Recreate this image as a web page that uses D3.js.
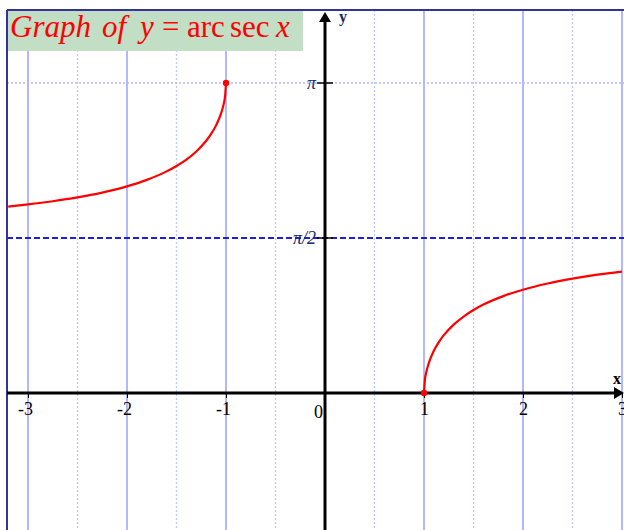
<!DOCTYPE html>
<html>
<head>
<meta charset="utf-8">
<script src="https://cdn.jsdelivr.net/npm/d3@7"></script>
<style>
  body { margin: 0; background: #fff; }
  svg { display: block; }
  text { font-family: "Liberation Serif", "DejaVu Serif", serif; }
</style>
</head>
<body>
<div id="chart"></div>
<script>
// arcsec x
const leftX  = [-3.2, -3.0, -2.75, -2.5, -2.25, -2.0, -1.8, -1.6, -1.5, -1.4, -1.3, -1.2, -1.15, -1.1, -1.05, -1.02, -1.01, -1.0];
const leftY  = [1.889, 1.911, 1.943, 1.982, 2.031, 2.094, 2.160, 2.246, 2.301, 2.366, 2.448, 2.556, 2.626, 2.712, 2.833, 2.943, 3.000, 3.1416];
const rightX = [1.0, 1.01, 1.02, 1.05, 1.1, 1.15, 1.2, 1.3, 1.4, 1.5, 1.6, 1.8, 2.0, 2.25, 2.5, 2.75, 3.0];
const rightY = [0, 0.142, 0.198, 0.308, 0.430, 0.516, 0.586, 0.693, 0.775, 0.841, 0.896, 0.982, 1.047, 1.110, 1.159, 1.199, 1.231];
const endDots = [[-1, Math.PI], [1, 0]];

const xTicks = [-3, -2, -1, 1, 2, 3];
const xGridMajor = [-3, -2, -1, 1, 2, 3];
const xGridMinor = [-2.5, -1.5, -0.5, 0.5, 1.5, 2.5];
const yTicks = [Math.PI / 2, Math.PI];
const yTickLabels = ["\u03c0/2", "\u03c0"];
const titleWords = [
  { t: "Graph", x: 10, it: true },
  { t: "of", x: 102, it: true },
  { t: "y", x: 140, it: true },
  { t: "=", x: 162, it: false },
  { t: "arc", x: 187, it: false },
  { t: "sec", x: 230, it: false },
  { t: "x", x: 276, it: true }
];

const W = 624, H = 530;
const svg = d3.select("#chart").append("svg").attr("width", W).attr("height", H);

const x = d3.scaleLinear().domain([-3, 3]).range([28, 622]);
const y = d3.scaleLinear().domain([0, Math.PI]).range([393, 83]);
const frameTop = 10, frameLeft = 7;

// grid
svg.selectAll(".gmaj").data(xGridMajor).enter().append("line")
    .attr("x1", d => x(d)).attr("x2", d => x(d))
    .attr("y1", frameTop).attr("y2", H)
    .attr("stroke", "#a0a6ff").attr("stroke-width", 1.6);

svg.selectAll(".gmin").data(xGridMinor).enter().append("line")
    .attr("x1", d => x(d)).attr("x2", d => x(d))
    .attr("y1", frameTop).attr("y2", H)
    .attr("stroke", "#c0c4ff").attr("stroke-width", 1.3)
    .attr("stroke-dasharray", "2,2");

svg.append("line")
    .attr("x1", frameLeft).attr("x2", W)
    .attr("y1", y(Math.PI)).attr("y2", y(Math.PI))
    .attr("stroke", "#b4b8ff").attr("stroke-width", 1.3)
    .attr("stroke-dasharray", "2,2");

// asymptote y = pi/2
svg.append("line")
    .attr("x1", frameLeft).attr("x2", W)
    .attr("y1", y(Math.PI / 2)).attr("y2", y(Math.PI / 2))
    .attr("stroke", "#1f1fd6").attr("stroke-width", 2)
    .attr("stroke-dasharray", "6,3");

// frame
svg.append("line").attr("x1", frameLeft).attr("x2", frameLeft).attr("y1", frameTop).attr("y2", H)
    .attr("stroke", "#333399").attr("stroke-width", 2);
svg.append("line").attr("x1", frameLeft).attr("x2", W).attr("y1", frameTop).attr("y2", frameTop)
    .attr("stroke", "#333399").attr("stroke-width", 2);

// axes
svg.append("line").attr("x1", frameLeft).attr("x2", W - 6)
    .attr("y1", y(0)).attr("y2", y(0))
    .attr("stroke", "#000").attr("stroke-width", 3);
svg.append("path")
    .attr("d", `M${W},${y(0)} L${W - 10},${y(0) - 6} L${W - 10},${y(0) + 6} Z`)
    .attr("fill", "#000");

svg.append("line").attr("x1", x(0)).attr("x2", x(0))
    .attr("y1", frameTop + 10).attr("y2", H)
    .attr("stroke", "#000").attr("stroke-width", 3);
svg.append("path")
    .attr("d", `M${x(0)},${frameTop + 2} L${x(0) - 6},${frameTop + 12} L${x(0) + 6},${frameTop + 12} Z`)
    .attr("fill", "#000");

// x ticks
const xAxis = d3.axisBottom(x).tickValues(xTicks).tickSize(5).tickSizeOuter(0)
    .tickFormat(d => String(d));
const gx = svg.append("g").attr("transform", `translate(0,${y(0)})`).call(xAxis);
gx.select(".domain").remove();
gx.selectAll(".tick line").attr("stroke", "#000").attr("stroke-width", 1);
gx.selectAll(".tick text")
    .attr("font-family", "Liberation Serif, serif").attr("font-size", 18)
    .attr("fill", "#000").attr("text-anchor", "end")
    .attr("dx", 4.5).attr("y", 9).attr("dy", "0.71em");

svg.append("text").attr("x", x(0) - 2).attr("y", 418)
    .attr("text-anchor", "end").attr("font-size", 18).text("0");

// y ticks
svg.selectAll(".ytick").data(yTicks).enter().append("line")
    .attr("x1", x(0) - 8).attr("x2", x(0) + 8)
    .attr("y1", d => y(d)).attr("y2", d => y(d))
    .attr("stroke", "#000").attr("stroke-width", 1.5);
svg.selectAll(".ylab").data(yTicks).enter().append("text")
    .attr("x", x(0) - 9).attr("y", d => y(d) + 6)
    .attr("text-anchor", "end").attr("font-style", "italic")
    .attr("font-size", 18).attr("fill", "#1a2a66")
    .text((d, i) => yTickLabels[i]);

// axis names
svg.append("text").attr("x", W - 3).attr("y", 384)
    .attr("text-anchor", "end").attr("font-weight", "bold").attr("font-size", 16)
    .text("x");
svg.append("text").attr("x", 339).attr("y", 22)
    .attr("font-weight", "bold").attr("font-size", 16).attr("fill", "#1a2a66")
    .text("y");

// curves
const line = d3.line().x(d => x(d[0])).y(d => y(d[1])).curve(d3.curveMonotoneX);
[[leftX, leftY], [rightX, rightY]].forEach(([xs, ys]) => {
  svg.append("path")
      .datum(xs.map((v, i) => [v, ys[i]]))
      .attr("d", line)
      .attr("fill", "none").attr("stroke", "#ff0000").attr("stroke-width", 2.2);
});
svg.selectAll(".dot").data(endDots).enter().append("circle")
    .attr("cx", d => x(d[0])).attr("cy", d => y(d[1])).attr("r", 3.2)
    .attr("fill", "#ff0000");

// title box
svg.append("rect").attr("x", frameLeft + 1).attr("y", frameTop + 1)
    .attr("width", 295).attr("height", 40)
    .attr("fill", "#c2dec4");
svg.selectAll(".tw").data(titleWords).enter().append("text")
    .attr("x", d => d.x).attr("y", 37)
    .attr("font-size", 31).attr("fill", "#ff0000")
    .attr("font-style", d => d.it ? "italic" : "normal")
    .text(d => d.t);
</script>
</body>
</html>
